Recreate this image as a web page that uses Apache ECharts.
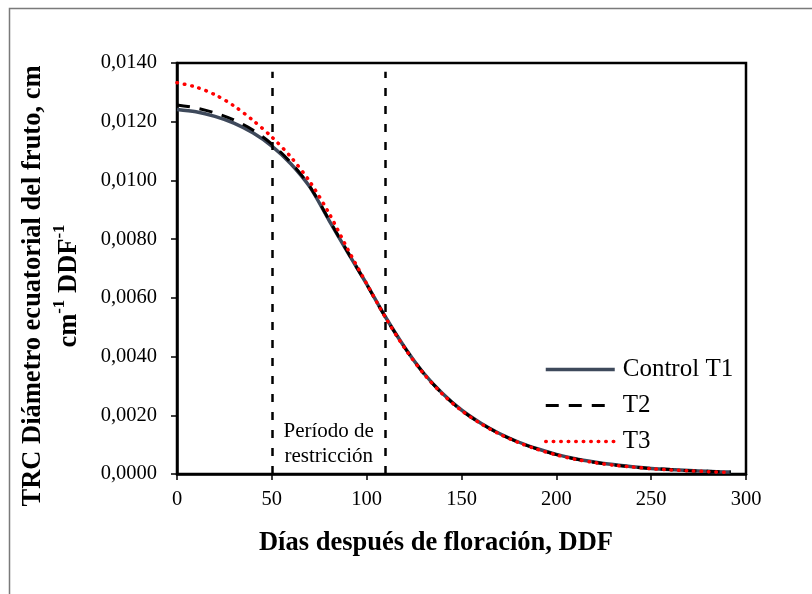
<!DOCTYPE html>
<html>
<head>
<meta charset="utf-8">
<script src="https://cdn.jsdelivr.net/npm/echarts@6/dist/echarts.min.js"></script>
<style>
  html, body { margin: 0; padding: 0; background: #fff; }
  #chart { width: 812px; height: 594px; }
</style>
</head>
<body>
<div id="chart"></div>
<script>
// Días después de floración (DDF)
const days = [0, 10, 20, 30, 40, 50, 60, 70, 80, 90, 100, 110, 120, 130, 140, 150,
              160, 170, 180, 190, 200, 210, 220, 230, 240, 250, 260, 270, 280, 290, 292];

// Tasa relativa de crecimiento del diámetro ecuatorial (cm cm-1 DDF-1)
const controlT1 = [0.01242, 0.01234, 0.01218, 0.01195, 0.01162, 0.01117, 0.01057, 0.00978,
                   0.00866, 0.00755, 0.00647, 0.00534, 0.00432, 0.00344, 0.00274, 0.00218,
                   0.00174, 0.00138, 0.00109, 0.00086, 0.00067, 0.00052, 0.00041, 0.00032,
                   0.00025, 0.00019, 0.00015, 0.00012, 0.00009, 0.00007, 0.00007];
const t2 = [0.01257, 0.01247, 0.01230, 0.01206, 0.01172, 0.01124, 0.01061, 0.00980,
            0.00868, 0.00756, 0.00646, 0.00533, 0.00431, 0.00343, 0.00273, 0.00217,
            0.00173, 0.00137, 0.00108, 0.00085, 0.00066, 0.00051, 0.00040, 0.00031,
            0.00024, 0.00019, 0.00015, 0.00011, 0.00009, 0.00007, 0.00007];
const t3 = [0.01333, 0.01318, 0.01292, 0.01254, 0.01205, 0.01148, 0.01080, 0.00996,
            0.00890, 0.00766, 0.00648, 0.00532, 0.00429, 0.00342, 0.00272, 0.00216,
            0.00172, 0.00136, 0.00107, 0.00084, 0.00065, 0.00050, 0.00039, 0.00030,
            0.00024, 0.00018, 0.00014, 0.00011, 0.00008, 0.00006, 0.00006];

const seriesNames = ['Control T1', 'T2', 'T3'];

// Período de restricción (DDF) y altura de las líneas verticales
const restrictionDays = [50, 110];
const restrictionTop = 0.0137;

// Ejes
const xTicks = { min: 0, max: 300, interval: 50 };
const yTicks = { min: 0, max: 0.014, interval: 0.002 };

const serif = '"Liberation Serif", "Times New Roman", serif';

// Estilos de línea de cada tratamiento
const lineStyles = [
  { color: '#3e495b', width: 3.5, type: 'solid' },
  { color: '#000000', width: 3, type: [13, 10] },
  { color: '#ff0000', width: 3.5, type: [0.5, 7], cap: 'round' }
];

const pairs = (ys) => days.map((d, i) => [d, ys[i]]);

const chart = echarts.init(document.getElementById('chart'), null, { renderer: 'canvas' });

chart.setOption({
  backgroundColor: '#fff',
  animation: false,
  grid: {
    left: 177, top: 63, right: 66, bottom: 120,
    show: true, borderColor: '#000', borderWidth: 2.5,
    outerBoundsMode: 'none'
  },
  xAxis: {
    type: 'value',
    min: xTicks.min, max: xTicks.max, interval: xTicks.interval,
    axisLine: { onZero: false, lineStyle: { color: '#000', width: 2.5 } },
    axisTick: { show: true, inside: false, length: 6, lineStyle: { color: '#000', width: 1.5 } },
    splitLine: { show: false },
    axisLabel: { margin: 15, fontFamily: serif, fontSize: 20.5, color: '#000' }
  },
  yAxis: {
    type: 'value',
    min: yTicks.min, max: yTicks.max, interval: yTicks.interval,
    axisLine: { show: true, lineStyle: { color: '#000', width: 2.5 } },
    axisTick: { show: true, inside: false, length: 6, lineStyle: { color: '#000', width: 1.5 } },
    splitLine: { show: false },
    axisLabel: {
      margin: 20, fontFamily: serif, fontSize: 20.5, color: '#000',
      formatter: (v) => v.toFixed(4).replace('.', ',')
    }
  },
  legend: {
    data: seriesNames.map((name, i) => ({ name, lineStyle: Object.assign({}, lineStyles[i]) })),
    orient: 'vertical',
    left: 544, top: 357,
    padding: 0,
    itemWidth: 69, itemHeight: 14, itemGap: 11,
    itemStyle: { opacity: 0 },
    textStyle: { fontFamily: serif, fontSize: 25, color: '#000', padding: [0, 0, 0, 3] }
  },
  series: [
    {
      name: 'restricción',
      type: 'line',
      data: [],
      silent: true,
      markLine: {
        silent: true,
        symbol: ['none', 'none'],
        label: { show: false },
        lineStyle: { color: '#000', width: 2.5, type: [8, 10] },
        data: restrictionDays.map((d) => [{ coord: [d, 0] }, { coord: [d, restrictionTop] }])
      },
      markArea: {
        silent: true,
        itemStyle: { color: 'rgba(0,0,0,0)' },
        label: {
          show: true, position: 'insideBottom', distance: 5,
          fontFamily: serif, fontSize: 21, lineHeight: 25, color: '#000'
        },
        data: [[{ xAxis: restrictionDays[0], name: 'Período de\nrestricción' }, { xAxis: restrictionDays[1] }]]
      }
    },
    {
      name: seriesNames[0],
      type: 'line',
      data: pairs(controlT1),
      smooth: 0.3,
      symbol: 'none',
      lineStyle: lineStyles[0],
      itemStyle: { color: lineStyles[0].color },
      z: 2
    },
    {
      name: seriesNames[1],
      type: 'line',
      data: pairs(t2),
      smooth: 0.3,
      symbol: 'none',
      lineStyle: lineStyles[1],
      itemStyle: { color: lineStyles[1].color },
      z: 3
    },
    {
      name: seriesNames[2],
      type: 'line',
      data: pairs(t3),
      smooth: 0.3,
      symbol: 'none',
      lineStyle: lineStyles[2],
      itemStyle: { color: lineStyles[2].color },
      z: 4
    }
  ],
  graphic: [
    {
      type: 'rect', silent: true, z: -1,
      shape: { x: 9.5, y: 8.5, width: 900, height: 700 },
      style: { fill: 'none', stroke: '#7a7a7a', lineWidth: 1.5 }
    },
    {
      type: 'text', silent: true,
      x: 436, y: 543,
      style: {
        text: 'Días después de floración, DDF',
        fontFamily: serif, fontSize: 26.5, fontWeight: 'bold', fill: '#000',
        align: 'center', verticalAlign: 'middle'
      }
    },
    {
      type: 'text', silent: true,
      x: 33, y: 286, rotation: Math.PI / 2,
      style: {
        text: 'TRC Diámetro ecuatorial del fruto, cm',
        fontFamily: serif, fontSize: 26.5, fontWeight: 'bold', fill: '#000',
        align: 'center', verticalAlign: 'middle'
      }
    },
    {
      type: 'text', silent: true,
      x: 67, y: 286, rotation: Math.PI / 2,
      style: {
        text: '{n|cm}{s|-1}{n| DDF}{s|-1}',
        align: 'center', verticalAlign: 'middle',
        rich: {
          n: { fontFamily: serif, fontSize: 26.5, fontWeight: 'bold', fill: '#000', lineHeight: 31, verticalAlign: 'bottom' },
          s: { fontFamily: serif, fontSize: 17, fontWeight: 'bold', fill: '#000', lineHeight: 31, verticalAlign: 'top' }
        }
      }
    }
  ]
});
</script>
</body>
</html>
